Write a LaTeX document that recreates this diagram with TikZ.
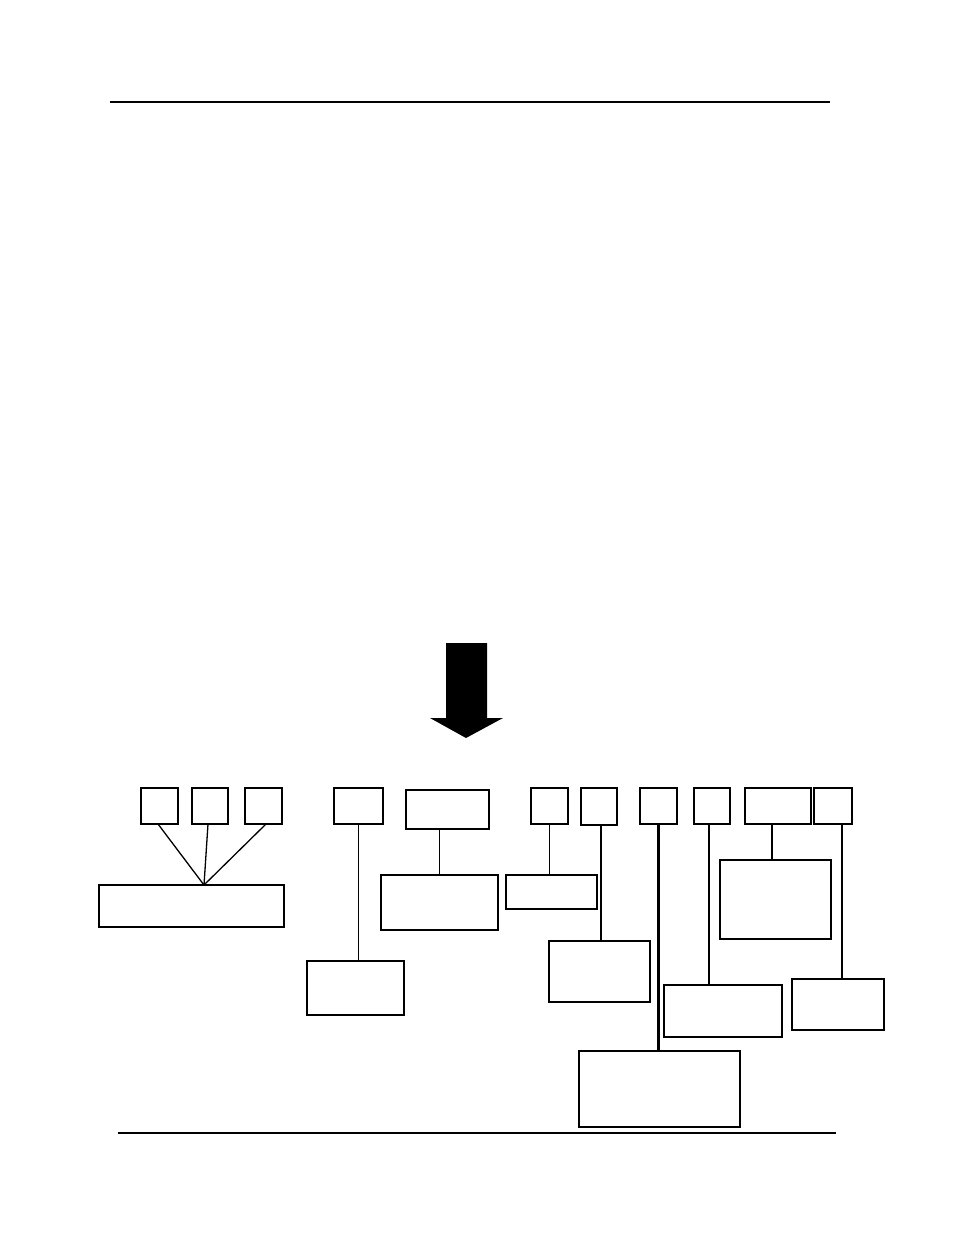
\documentclass[tikz,border=0pt]{standalone}
\begin{document}
\begin{tikzpicture}[x=1pt,y=-1pt,
  thinbox/.style={draw,line width=1.3pt,inner sep=0pt,outer sep=0pt},
  thickbox/.style={draw,line width=2.4pt,inner sep=0pt,outer sep=0pt},
  thinline/.style={line width=1.3pt},
  thickline/.style={line width=2.4pt},
  rule/.style={line width=1.2pt}]
\useasboundingbox[fill=white] (0,0) rectangle (954,1235);
% rules
\coordinate (t1) at (110,102); \coordinate (t2) at (830,102);
\coordinate (b1) at (118,1133); \coordinate (b2) at (836,1133);
\draw[rule] (t1) -- (t2);
\draw[rule] (b1) -- (b2);
% big arrow
\fill (446,643) -- (487,643) -- (487,718) -- (503,718) -- (466,738) -- (430,718) -- (446,718) -- cycle;
% top boxes
\node[thinbox, minimum width=37, minimum height=36] (a1) at (159.5,806) {};
\node[thickbox,minimum width=36, minimum height=36] (a2) at (210,806) {};
\node[thinbox, minimum width=37, minimum height=36] (a3) at (263.5,806) {};
\node[thickbox,minimum width=49, minimum height=36] (b) at (358.5,806) {};
\node[thickbox,minimum width=83, minimum height=39] (c) at (447.5,809.5) {};
\node[thinbox, minimum width=37, minimum height=36] (d) at (549.5,806) {};
\node[thickbox,minimum width=36, minimum height=37] (e) at (599,806.5) {};
\node[thinbox, minimum width=37, minimum height=36] (f) at (658.5,806) {};
\node[thinbox, minimum width=36, minimum height=36] (g) at (712,806) {};
\node[thinbox, minimum width=66, minimum height=36] (h) at (778,806) {};
\node[thickbox,minimum width=38, minimum height=36] (i) at (833,806) {};
% lower boxes
\node[thickbox,minimum width=185,minimum height=42] (A) at (191.5,906) {};
\node[thinbox, minimum width=97, minimum height=54] (B) at (355.5,988) {};
\node[thinbox, minimum width=117,minimum height=55] (C) at (439.5,902.5) {};
\node[thickbox,minimum width=91, minimum height=34] (D) at (551.5,892) {};
\node[thinbox, minimum width=101,minimum height=61] (E) at (599.5,971.5) {};
\node[thickbox,minimum width=161,minimum height=76] (F) at (659.5,1089) {};
\node[thickbox,minimum width=118,minimum height=52] (G) at (723,1011) {};
\node[thickbox,minimum width=111,minimum height=79] (H) at (775.5,899.5) {};
\node[thickbox,minimum width=92, minimum height=51] (I) at (838,1004.5) {};
% connectors
\coordinate (jA) at (204,885);
\draw[thinline] ([xshift=-1.5]a1.south) -- (jA);
\draw[thinline] ([xshift=-2]a2.south) -- (jA);
\draw[thinline] ([xshift=2.5]a3.south) -- (jA);
\draw[thinline] (b.south) -- (b.south |- B.north);
\draw[thinline] (C.north |- c.south) -- (C.north);
\draw[thinline] (d.south) -- (d.south |- D.north);
\draw[thickline] ([xshift=2]e.south) -- ([xshift=2]e.south |- E.north);
\draw[thickline] (f.south) -- (f.south |- F.north);
\draw[thinline] ([xshift=-3]g.south) -- ([xshift=-3]g.south |- G.north);
\draw[thinline] ([xshift=-6]h.south) -- ([xshift=-6]h.south |- H.north);
\draw[thickline] ([xshift=9]i.south) -- ([xshift=9]i.south |- I.north);
\end{tikzpicture}
\end{document}
